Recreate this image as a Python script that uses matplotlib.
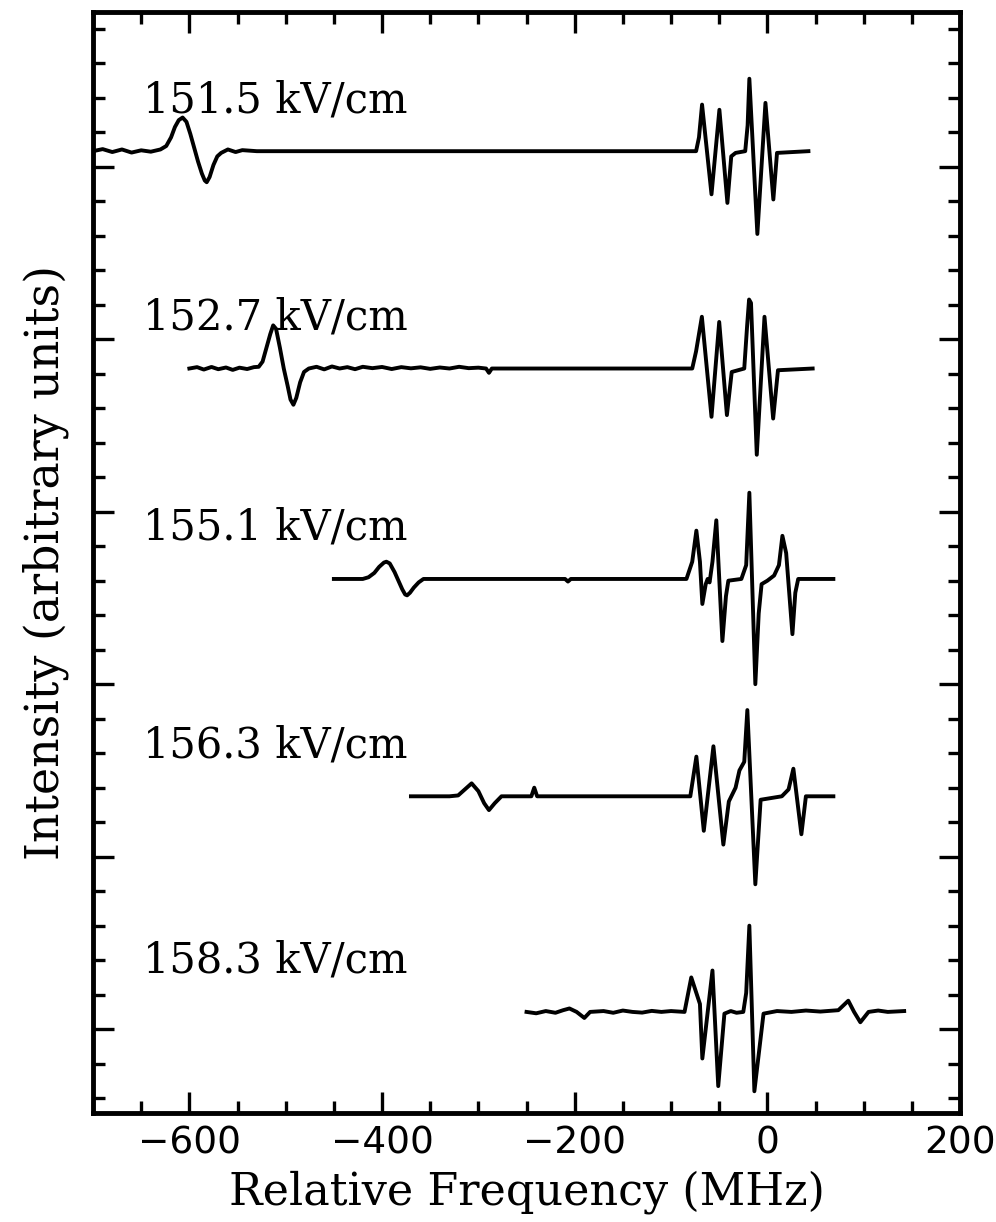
import numpy as np
import matplotlib.pyplot as plt
from matplotlib.ticker import MultipleLocator

# field labels and vertical offsets of the five spectra (arbitrary units)
fields = ["151.5 kV/cm", "152.7 kV/cm", "155.1 kV/cm", "156.3 kV/cm", "158.3 kV/cm"]
offsets = [609, 483, 361, 235, 110]

# 151.5 kV/cm
freq_1 = [-700, -690, -680, -670, -660, -650, -640, -630, -624, -619, -615, -611, -607, -603,
          -599, -595, -591, -587, -584, -582, -579, -575, -571, -567, -560, -552, -545, -530,
          -74, -71, -67.8, -58, -49.8, -41.5, -37.5, -33, -23, -20.5, -18.7, -10.4, -2, 6.2,
          10, 42.6]
int_1 = [0, 1.2, -0.5, 1, -0.8, 0.5, -0.3, 1, 3, 8, 14, 18, 19.5, 17,
         10, 2, -6, -13, -17, -18, -15, -8, -3, -1, 1, -0.5, 0.6, 0,
         0, 8, 27, -25, 24, -30, -3, -1, 0, 15, 42, -48, 28, -28,
         -1, 0]

# 152.7 kV/cm
freq_2 = [-600, -592, -585, -577, -570, -562, -555, -548, -540, -533, -528, -524, -520, -516,
          -513, -510, -506, -502, -498, -495, -492, -489, -485, -481, -476, -468, -460, -452,
          -444, -436, -428, -420, -410, -400, -390, -380, -370, -360, -350, -340, -330, -320,
          -310, -300, -292, -289, -286, -280, -78, -74, -68, -58, -50, -42, -37, -24,
          -21, -19, -17, -11, -3, 6, 11, 47]
int_2 = [0, 0.8, -0.6, 0.9, -0.4, 0.6, -0.8, 0.5, -0.3, 0.8, 1, 4, 12, 20,
         25, 23, 12, 0, -10, -18, -21, -17, -8, -2, 0, 1, -0.5, 1.2,
         0, 0.8, -0.4, 1, 0.2, 0.9, -0.3, 0.8, 0.1, 0.7, -0.2, 0.6, 0, 1,
         0.2, 0.5, 0, -2.5, 0, 0, 0, 10, 30, -28, 27, -27, -2, 0,
         25, 40, 38, -50, 30, -29, -1, 0]

# 155.1 kV/cm
freq_3 = [-450, -420, -414, -408, -403, -398, -395.5, -392, -387, -383, -379, -376, -374, -371,
          -367, -362, -357, -300, -210, -207, -204, -150, -84, -78, -73.7, -70, -67.5, -64,
          -62, -60, -57, -53, -46.7, -43, -40.5, -27, -22, -18.7, -12.5, -9, -6, 0,
          7, 12, 15.6, 19.5, 26, 29, 32, 68.5]
int_3 = [0, 0, 1, 3.5, 7, 9.5, 10, 9, 4, -1, -6, -9, -9.5, -8,
         -5, -2, 0, 0, 0, -1.5, 0, 0, 0, 10, 28, 10, -14.5, -3,
         0, -2, 10, 34, -36, -10, -1, 0, 8, 50, -61, -20, -3, -1,
         2, 8, 25, 15, -32, -8, 0, 0]

# 156.3 kV/cm
freq_4 = [-370, -330, -321, -314, -307, -300, -294, -289, -283, -276, -245, -242, -239, -150,
          -80, -73.7, -66, -56, -45.7, -40, -33, -29, -24, -20.8, -12.5, -7, 15, 22,
          27, 35.3, 40, 68.5]
int_4 = [0, 0, 0.5, 4, 7.5, 3, -4, -8, -4, 0, 0, 5, 0, 0,
         0, 23, -20, 29, -28, -3, 5, 15, 20, 50, -51, -2, 0, 4,
         16, -22, 0, 0]

# 158.3 kV/cm
freq_5 = [-250, -240, -230, -220, -212, -205.5, -198, -190, -184, -170, -160, -150, -140, -130,
          -120, -110, -100, -86, -79, -70, -67.5, -57, -51, -44.6, -38, -32, -25, -22,
          -18.7, -13.5, -4, 10, 25, 40, 55, 73.7, 84, 90, 96.5, 105, 115, 125,
          142]
int_5 = [0, -0.8, 0.5, -0.5, 1, 2, 0, -3.5, 0, 0.5, -0.5, 0.8, 0, -0.4,
         0.6, 0, 0.5, 0, 20, 4.6, -27, 24, -43, -1, 0.5, -0.5, 0, 11,
         50, -46, -1, 0.5, 0, 0.8, 0.2, 1, 6.5, 0, -6, 0, 0.8, 0,
         0.5]

freqs = [freq_1, freq_2, freq_3, freq_4, freq_5]
ints = [int_1, int_2, int_3, int_4, int_5]

fig = plt.figure(figsize=(9.96, 12.22), dpi=100)
ax = fig.add_axes([0.0934, 0.0892, 0.8705, 0.901])

for f, i, off, lab in zip(freqs, ints, offsets, fields):
    ax.plot(f, off + np.array(i), color='black', lw=2.8, solid_joinstyle='round')
    ax.text(-648, off + 22.6, lab, fontsize=30, family='DejaVu Serif', va='baseline')

ax.set_xlim(-700, 200)
ax.set_ylim(51.4, 689.7)
ax.xaxis.set_major_locator(MultipleLocator(200))
ax.xaxis.set_minor_locator(MultipleLocator(50))
ax.yaxis.set_major_locator(MultipleLocator(100))
ax.yaxis.set_minor_locator(MultipleLocator(20))
ax.tick_params(which='both', direction='in', top=True, right=True, width=2.4)
ax.tick_params(which='major', length=15, pad=9)
ax.tick_params(which='minor', length=8.5)
ax.tick_params(axis='y', labelleft=False)
for lbl in ax.get_xticklabels():
    lbl.set_fontsize(27)
for s in ax.spines.values():
    s.set_linewidth(3.5)

ax.set_xlabel("Relative Frequency (MHz)", fontsize=32, family='DejaVu Serif', labelpad=6)
ax.set_ylabel("Intensity (arbitrary units)", fontsize=33, family='DejaVu Serif', labelpad=14)

fig.savefig("out.png", dpi=100)
